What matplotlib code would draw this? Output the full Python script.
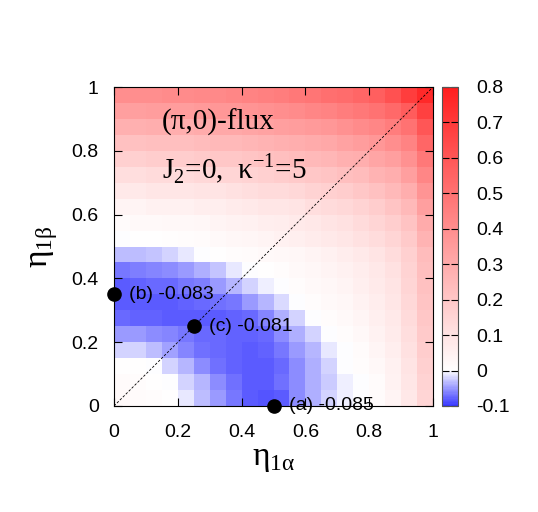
import matplotlib
matplotlib.use("Agg")
import matplotlib.pyplot as plt
import numpy as np
from matplotlib.colors import LinearSegmentedColormap, Normalize

# energy map, rows from eta_1beta = 0 (bottom) to 1 (top), columns eta_1alpha 0 -> 1
energy = [
    [0.02, 0.015, 0.01, 0.005, -0.01, -0.03, -0.05, -0.065, -0.08, -0.085, -0.08, -0.055, -0.04, -0.022, -0.008, 0.0, 0.015, 0.04, 0.085, 0.15],
    [0.015, 0.01, 0.005, 0.0, -0.02, -0.035, -0.055, -0.07, -0.08, -0.082, -0.07, -0.055, -0.04, -0.025, -0.008, 0.0, 0.015, 0.045, 0.09, 0.16],
    [0.005, 0.003, 0.0, -0.02, -0.035, -0.055, -0.07, -0.078, -0.08, -0.08, -0.075, -0.055, -0.04, -0.02, 0.0, 0.01, 0.025, 0.05, 0.10, 0.17],
    [-0.02, -0.022, -0.03, -0.045, -0.06, -0.07, -0.075, -0.078, -0.08, -0.078, -0.065, -0.05, -0.035, -0.01, 0.0, 0.015, 0.035, 0.06, 0.11, 0.18],
    [-0.048, -0.05, -0.055, -0.06, -0.068, -0.072, -0.075, -0.078, -0.078, -0.075, -0.055, -0.04, -0.02, 0.0, 0.01, 0.025, 0.045, 0.07, 0.12, 0.19],
    [-0.075, -0.076, -0.078, -0.08, -0.08, -0.08, -0.08, -0.078, -0.072, -0.06, -0.04, -0.02, 0.0, 0.01, 0.02, 0.035, 0.055, 0.08, 0.13, 0.20],
    [-0.082, -0.082, -0.08, -0.08, -0.078, -0.075, -0.07, -0.065, -0.05, -0.035, -0.018, 0.0, 0.01, 0.02, 0.03, 0.045, 0.065, 0.09, 0.14, 0.21],
    [-0.08, -0.078, -0.075, -0.072, -0.068, -0.062, -0.05, -0.035, -0.02, -0.008, 0.0, 0.01, 0.02, 0.03, 0.04, 0.055, 0.075, 0.10, 0.15, 0.22],
    [-0.065, -0.062, -0.06, -0.056, -0.05, -0.04, -0.028, -0.012, 0.0, 0.005, 0.01, 0.02, 0.03, 0.04, 0.05, 0.065, 0.085, 0.11, 0.16, 0.23],
    [-0.03, -0.03, -0.028, -0.022, -0.01, 0.0, 0.005, 0.01, 0.015, 0.02, 0.025, 0.03, 0.04, 0.05, 0.065, 0.08, 0.10, 0.125, 0.17, 0.24],
    [0.0, 0.003, 0.005, 0.008, 0.011, 0.016, 0.022, 0.027, 0.032, 0.04, 0.049, 0.057, 0.068, 0.078, 0.092, 0.108, 0.127, 0.151, 0.189, 0.27],
    [0.015, 0.02, 0.02, 0.025, 0.025, 0.03, 0.04, 0.045, 0.05, 0.06, 0.065, 0.075, 0.085, 0.10, 0.11, 0.13, 0.15, 0.175, 0.215, 0.30],
    [0.04, 0.04, 0.05, 0.05, 0.05, 0.06, 0.06, 0.07, 0.08, 0.09, 0.09, 0.10, 0.12, 0.13, 0.14, 0.16, 0.18, 0.21, 0.25, 0.34],
    [0.08, 0.08, 0.09, 0.09, 0.09, 0.10, 0.10, 0.11, 0.12, 0.13, 0.13, 0.14, 0.16, 0.17, 0.18, 0.20, 0.22, 0.25, 0.29, 0.38],
    [0.12, 0.12, 0.13, 0.13, 0.13, 0.14, 0.15, 0.15, 0.16, 0.17, 0.18, 0.19, 0.20, 0.21, 0.23, 0.24, 0.27, 0.29, 0.34, 0.43],
    [0.17, 0.17, 0.18, 0.18, 0.18, 0.19, 0.20, 0.20, 0.21, 0.22, 0.23, 0.24, 0.25, 0.26, 0.28, 0.29, 0.32, 0.34, 0.39, 0.48],
    [0.22, 0.22, 0.23, 0.23, 0.23, 0.24, 0.25, 0.25, 0.26, 0.27, 0.28, 0.29, 0.30, 0.31, 0.33, 0.35, 0.37, 0.40, 0.44, 0.54],
    [0.28, 0.28, 0.29, 0.29, 0.29, 0.30, 0.31, 0.31, 0.32, 0.33, 0.34, 0.35, 0.36, 0.37, 0.39, 0.41, 0.43, 0.46, 0.50, 0.60],
    [0.34, 0.34, 0.35, 0.35, 0.35, 0.36, 0.37, 0.37, 0.38, 0.39, 0.40, 0.41, 0.43, 0.44, 0.46, 0.48, 0.50, 0.53, 0.58, 0.68],
    [0.40, 0.40, 0.40, 0.41, 0.41, 0.42, 0.42, 0.43, 0.44, 0.45, 0.46, 0.48, 0.49, 0.51, 0.52, 0.54, 0.57, 0.62, 0.69, 0.76],
]

point_labels = ["(a) -0.085", "(b) -0.083", "(c) -0.081"]
point_x = [0.5, 0.0, 0.25]
point_y = [0.0, 0.35, 0.25]

ticks = [0, 0.2, 0.4, 0.6, 0.8, 1]
tick_labels = ["0", "0.2", "0.4", "0.6", "0.8", "1"]
cb_ticks = [-0.1, 0, 0.1, 0.2, 0.3, 0.4, 0.5, 0.6, 0.7, 0.8]
cb_labels = ["-0.1", "0", "0.1", "0.2", "0.3", "0.4", "0.5", "0.6", "0.7", "0.8"]

vmin, vmax = -0.1, 0.8
cmap = LinearSegmentedColormap.from_list(
    "bwr_flux",
    [(0.0, "#3838ff"), (-vmin / (vmax - vmin), "#ffffff"), (1.0, "#ff1e1e")],
)

sans = ["Liberation Sans", "DejaVu Sans"]
serif = ["Liberation Serif", "DejaVu Serif"]
plt.rcParams["mathtext.fontset"] = "custom"
plt.rcParams["mathtext.rm"] = "Liberation Serif"

fig = plt.figure(figsize=(5.38, 5.12), dpi=100)
ax = fig.add_axes([114 / 538, 1 - 406 / 512, 319 / 538, 319 / 512])
cax = fig.add_axes([442 / 538, 1 - 406 / 512, 16 / 538, 319 / 512])

data = np.array(energy)
ny, nx = data.shape
xe = np.linspace(0, 1, nx + 1)
ye = np.linspace(0, 1, ny + 1)
mesh = ax.pcolormesh(xe, ye, data, cmap=cmap, norm=Normalize(vmin, vmax),
                     shading="flat", linewidth=0, antialiased=False)

ax.plot([0, 1], [0, 1], color="black", lw=0.6, ls=(0, (3, 2)))

ax.plot(point_x, point_y, "o", color="black", ms=9.5, clip_on=False, zorder=5)
for px, py, lab in zip(point_x, point_y, point_labels):
    ax.text(px + 0.048, py, lab, family=sans, fontsize=14, va="center",
            ha="left", zorder=6, clip_on=False)

ax.text(0.15, 0.89, "(\u03c0,0)-flux", family=serif, fontsize=21, va="center")
ax.text(0.15, 0.745, "J$_{\\mathregular{2}}$=0,  \u03ba$^{\\mathregular{-1}}$=5",
        family=serif, fontsize=21, va="center")

ax.set_xlim(0, 1)
ax.set_ylim(0, 1)
ax.set_xticks(ticks)
ax.set_yticks(ticks)
ax.set_xticklabels(tick_labels, family=sans, fontsize=14)
ax.set_yticklabels(tick_labels, family=sans, fontsize=14)
ax.tick_params(direction="in", top=True, right=True, length=6, width=0.8)
ax.tick_params(axis="x", pad=13)
ax.tick_params(axis="y", pad=11)
for sp in ax.spines.values():
    sp.set_linewidth(0.8)

ax.set_xlabel("\u03b7$_{\\mathregular{1\u03b1}}$", family=serif, fontsize=24, labelpad=2)
ax.set_ylabel("\u03b7$_{\\mathregular{1\u03b2}}$", family=serif, fontsize=24, labelpad=8)

cb = fig.colorbar(mesh, cax=cax, ticks=cb_ticks)
cb.ax.set_yticklabels(cb_labels, family=sans, fontsize=14)
cb.ax.tick_params(direction="in", left=True, right=True, length=5, width=0.8, pad=13)
cb.outline.set_linewidth(0.8)
cb.outline.set_edgecolor("#555555")

fig.savefig("out.png", dpi=100)
